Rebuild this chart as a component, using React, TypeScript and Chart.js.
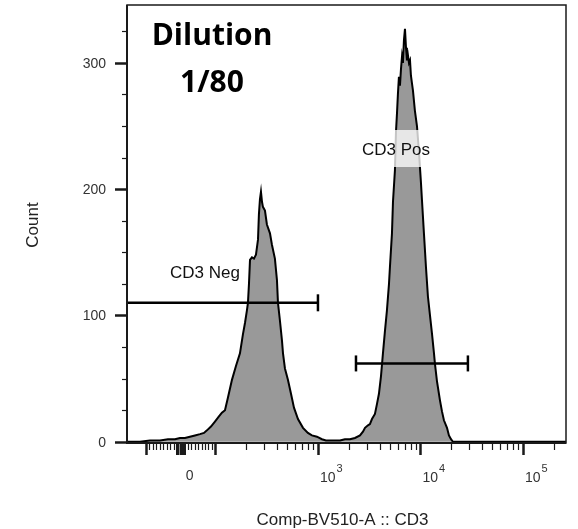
import { useEffect, useRef } from "react";
import { Chart, registerables } from "chart.js";

Chart.register(...registerables);

// Histogram of CD3 (BV510) staining. Positions are on the display axis,
// in decades (10^3 = 3); below 10^2 the axis is linear around zero.
const binPosition = [
  1.137, 1.263, 1.361, 1.459, 1.537, 1.605, 1.654, 1.702, 1.751, 1.8,
  1.849, 1.888, 1.917, 1.956, 1.995, 2.034, 2.063, 2.093, 2.122, 2.161,
  2.2, 2.239, 2.268, 2.288, 2.307, 2.317, 2.327, 2.337, 2.356, 2.376,
  2.395, 2.415, 2.424, 2.434, 2.444, 2.454, 2.463, 2.483, 2.502, 2.532,
  2.551, 2.58, 2.6, 2.61, 2.629, 2.649, 2.659, 2.678, 2.707, 2.737,
  2.766, 2.805, 2.854, 2.902, 2.941, 2.99, 3.039, 3.078, 3.117, 3.166,
  3.215, 3.263, 3.312, 3.361, 3.41, 3.439, 3.459, 3.488, 3.507, 3.527,
  3.556, 3.576, 3.595, 3.615, 3.634, 3.654, 3.673, 3.693, 3.702, 3.722,
  3.732, 3.751, 3.761, 3.771, 3.78, 3.79, 3.8, 3.81, 3.82, 3.829,
  3.839, 3.849, 3.859, 3.868, 3.878, 3.888, 3.898, 3.907, 3.917, 3.927,
  3.946, 3.966, 3.985, 4.005, 4.015, 4.034, 4.054, 4.073, 4.093, 4.112,
  4.132, 4.141, 4.161, 4.19, 4.21, 4.229, 4.259, 4.278, 4.298, 4.317,
  4.483, 5.42,
];
const binCount = [
  0, 0, 1, 1, 2, 2, 3, 3, 4, 5,
  6, 7, 9, 12, 16, 20, 23, 25, 35, 49,
  60, 70, 85, 94, 104, 110, 125, 144, 146, 145,
  148, 160, 180, 192, 198, 190, 186, 183, 172, 165,
  156, 145, 128, 110, 96, 80, 70, 58, 49, 38,
  27, 18, 11, 7, 5, 4, 2, 1, 1, 1,
  1, 2, 2, 3, 5, 8, 11, 13, 14, 18,
  22, 30, 38, 52, 70, 88, 104, 125, 138, 165,
  190, 215, 245, 260, 275, 289, 282, 295, 305, 300,
  318, 327, 312, 302, 306, 300, 302, 290, 284, 278,
  262, 250, 230, 205, 191, 165, 138, 115, 100, 86,
  70, 62, 48, 33, 24, 17, 11, 5, 2, 0,
  0, 0,
];

// Gates (display-axis range and the count level they are drawn at)
const negGateX = [1.0, 3.0];
const negGateLevel = 110;
const posGateX = [3.371, 4.463];
const posGateLevel = 62;
const negGateName = "CD3 Neg";
const posGateName = "CD3 Pos";

// Axes
const yTickValues = [0, 100, 200, 300];
const yMinorStep = 25;
const xMajorValues = [-100, 0, 100, 1000, 10000, 100000];
const xLabelValues = [0, 1000, 10000, 100000];
const xLabelBase = ["0", "10", "10", "10"];
const xLabelExponent = ["", "3", "4", "5"];
const xTitle = "Comp-BV510-A :: CD3";
const yTitle = "Count";
const titleLines = ["Dilution", "1/80"];

// Biexponential-style display transform: linear near zero, log10 from 100 up
function toDisplay(v: number): number {
  return v >= 100 ? Math.log10(v) : 1.66 + v * 0.0034;
}

function xMinorValues(): number[] {
  const out: number[] = [];
  for (let v = -90; v <= 90; v += 10) if (v !== 0) out.push(v);
  for (const e of [100, 1000, 10000]) for (let k = 2; k <= 9; k++) out.push(k * e);
  out.push(200000);
  return out;
}

const SANS = "'Liberation Sans', Arial, sans-serif";

const decorations = {
  id: "decorations",
  afterDatasetsDraw(chart: any) {
    const { ctx } = chart;
    // label backdrop for the positive gate
    ctx.save();
    ctx.fillStyle = "rgba(255,255,255,0.77)";
    ctx.fillRect(358, 130, 78, 37);
    ctx.fillStyle = "#111";
    ctx.font = `17px ${SANS}`;
    ctx.textAlign = "left";
    ctx.textBaseline = "alphabetic";
    ctx.fillText(posGateName, 362, 155);
    ctx.fillText(negGateName, 170, 278);
    ctx.restore();
  },
  afterDraw(chart: any) {
    const { ctx, chartArea: a, scales } = chart;
    const xs = scales.x;
    const ys = scales.y;
    ctx.save();

    // frame
    ctx.strokeStyle = "#1a1a1a";
    ctx.lineWidth = 1.5;
    ctx.strokeRect(a.left, a.top, a.right - a.left, a.bottom - a.top);
    ctx.lineWidth = 2;
    ctx.beginPath();
    ctx.moveTo(a.left, a.top);
    ctx.lineTo(a.left, a.bottom);
    ctx.lineTo(a.right, a.bottom);
    ctx.stroke();

    // y ticks
    for (let v = 0; v <= ys.max; v += yMinorStep) {
      const py = Math.round(ys.getPixelForValue(v)) + 0.5;
      const major = yTickValues.includes(v);
      ctx.lineWidth = major ? 2.5 : 1.2;
      ctx.beginPath();
      ctx.moveTo(a.left - (major ? 12 : 5), py);
      ctx.lineTo(a.left, py);
      ctx.stroke();
    }
    ctx.fillStyle = "#333";
    ctx.font = `14px ${SANS}`;
    ctx.textAlign = "right";
    ctx.textBaseline = "middle";
    for (const v of yTickValues) {
      ctx.fillText(String(v), a.left - 21, ys.getPixelForValue(v) + 1);
    }

    // x ticks
    const tick = (v: number, len: number, w: number) => {
      const px = Math.round(xs.getPixelForValue(toDisplay(v))) + 0.5;
      ctx.lineWidth = w;
      ctx.beginPath();
      ctx.moveTo(px, a.bottom);
      ctx.lineTo(px, a.bottom + len);
      ctx.stroke();
    };
    for (const v of xMinorValues()) tick(v, Math.abs(v) <= 10 ? 12 : 7, Math.abs(v) <= 10 ? 3 : 1.2);
    for (const v of xMajorValues) tick(v, 12, v === 0 ? 4 : 2.5);

    ctx.textBaseline = "alphabetic";
    for (let i = 0; i < xLabelValues.length; i++) {
      const px = xs.getPixelForValue(toDisplay(xLabelValues[i]));
      ctx.font = `14px ${SANS}`;
      if (!xLabelExponent[i]) {
        ctx.textAlign = "center";
        ctx.fillText(xLabelBase[i], px + 9, 480);
      } else {
        ctx.textAlign = "left";
        ctx.fillText(xLabelBase[i], px + 2, 482);
        const w = ctx.measureText(xLabelBase[i]).width;
        ctx.font = `11px ${SANS}`;
        ctx.fillText(xLabelExponent[i], px + 3 + w, 472);
      }
    }

    // axis titles
    ctx.fillStyle = "#222";
    ctx.font = `17px ${SANS}`;
    ctx.textAlign = "center";
    ctx.textBaseline = "alphabetic";
    ctx.fillText(xTitle, (a.left + a.right) / 2 - 4, 525);
    ctx.save();
    ctx.translate(38, (a.top + a.bottom) / 2 + 1);
    ctx.rotate(-Math.PI / 2);
    ctx.fillText(yTitle, 0, 0);
    ctx.restore();

    // panel title
    ctx.fillStyle = "#000";
    ctx.font = `bold 30px 'Open Sans', ${SANS}`;
    ctx.textAlign = "center";
    ctx.fillText(titleLines[0], 212, 45);
    ctx.fillText(titleLines[1], 212, 92);

    ctx.restore();
  },
};

export default function App() {
  const ref = useRef<HTMLCanvasElement>(null);

  useEffect(() => {
    const histogram = binPosition.map((p, i) => ({ x: p, y: binCount[i] }));
    const chart = new Chart(ref.current as HTMLCanvasElement, {
      type: "line",
      data: {
        datasets: [
          {
            data: negGateX.map((x) => ({ x, y: negGateLevel })),
            borderColor: "#000",
            borderWidth: 2.5,
            pointStyle: "line",
            pointRotation: 90,
            pointRadius: [0, 8.5],
            pointBorderWidth: 2.5,
            pointBorderColor: "#000",
            fill: false,
          },
          {
            data: posGateX.map((x) => ({ x, y: posGateLevel })),
            borderColor: "#000",
            borderWidth: 2.5,
            pointStyle: "line",
            pointRotation: 90,
            pointRadius: 8,
            pointBorderWidth: 2.5,
            pointBorderColor: "#000",
            fill: false,
          },
          {
            data: histogram,
            borderColor: "#000",
            borderWidth: 2,
            backgroundColor: "#999999",
            fill: "origin",
            pointRadius: 0,
            tension: 0,
          },
        ],
      } as any,
      options: {
        animation: false,
        responsive: false,
        layout: {
          autoPadding: false,
          padding: { left: 127, top: 5, right: 12, bottom: 86 },
        },
        scales: {
          x: { type: "linear", min: 1.137, max: 5.42, display: false },
          y: { type: "linear", min: -1, max: 345.8, display: false },
        },
        plugins: {
          legend: { display: false },
          tooltip: { enabled: false },
        },
      },
      plugins: [decorations],
    });
    return () => chart.destroy();
  }, []);

  return (
    <div
      style={{
        position: "fixed",
        left: 0,
        top: 0,
        width: 578,
        height: 529,
        background: "#fff",
      }}
    >
      <canvas ref={ref} width={578} height={529} />
    </div>
  );
}
